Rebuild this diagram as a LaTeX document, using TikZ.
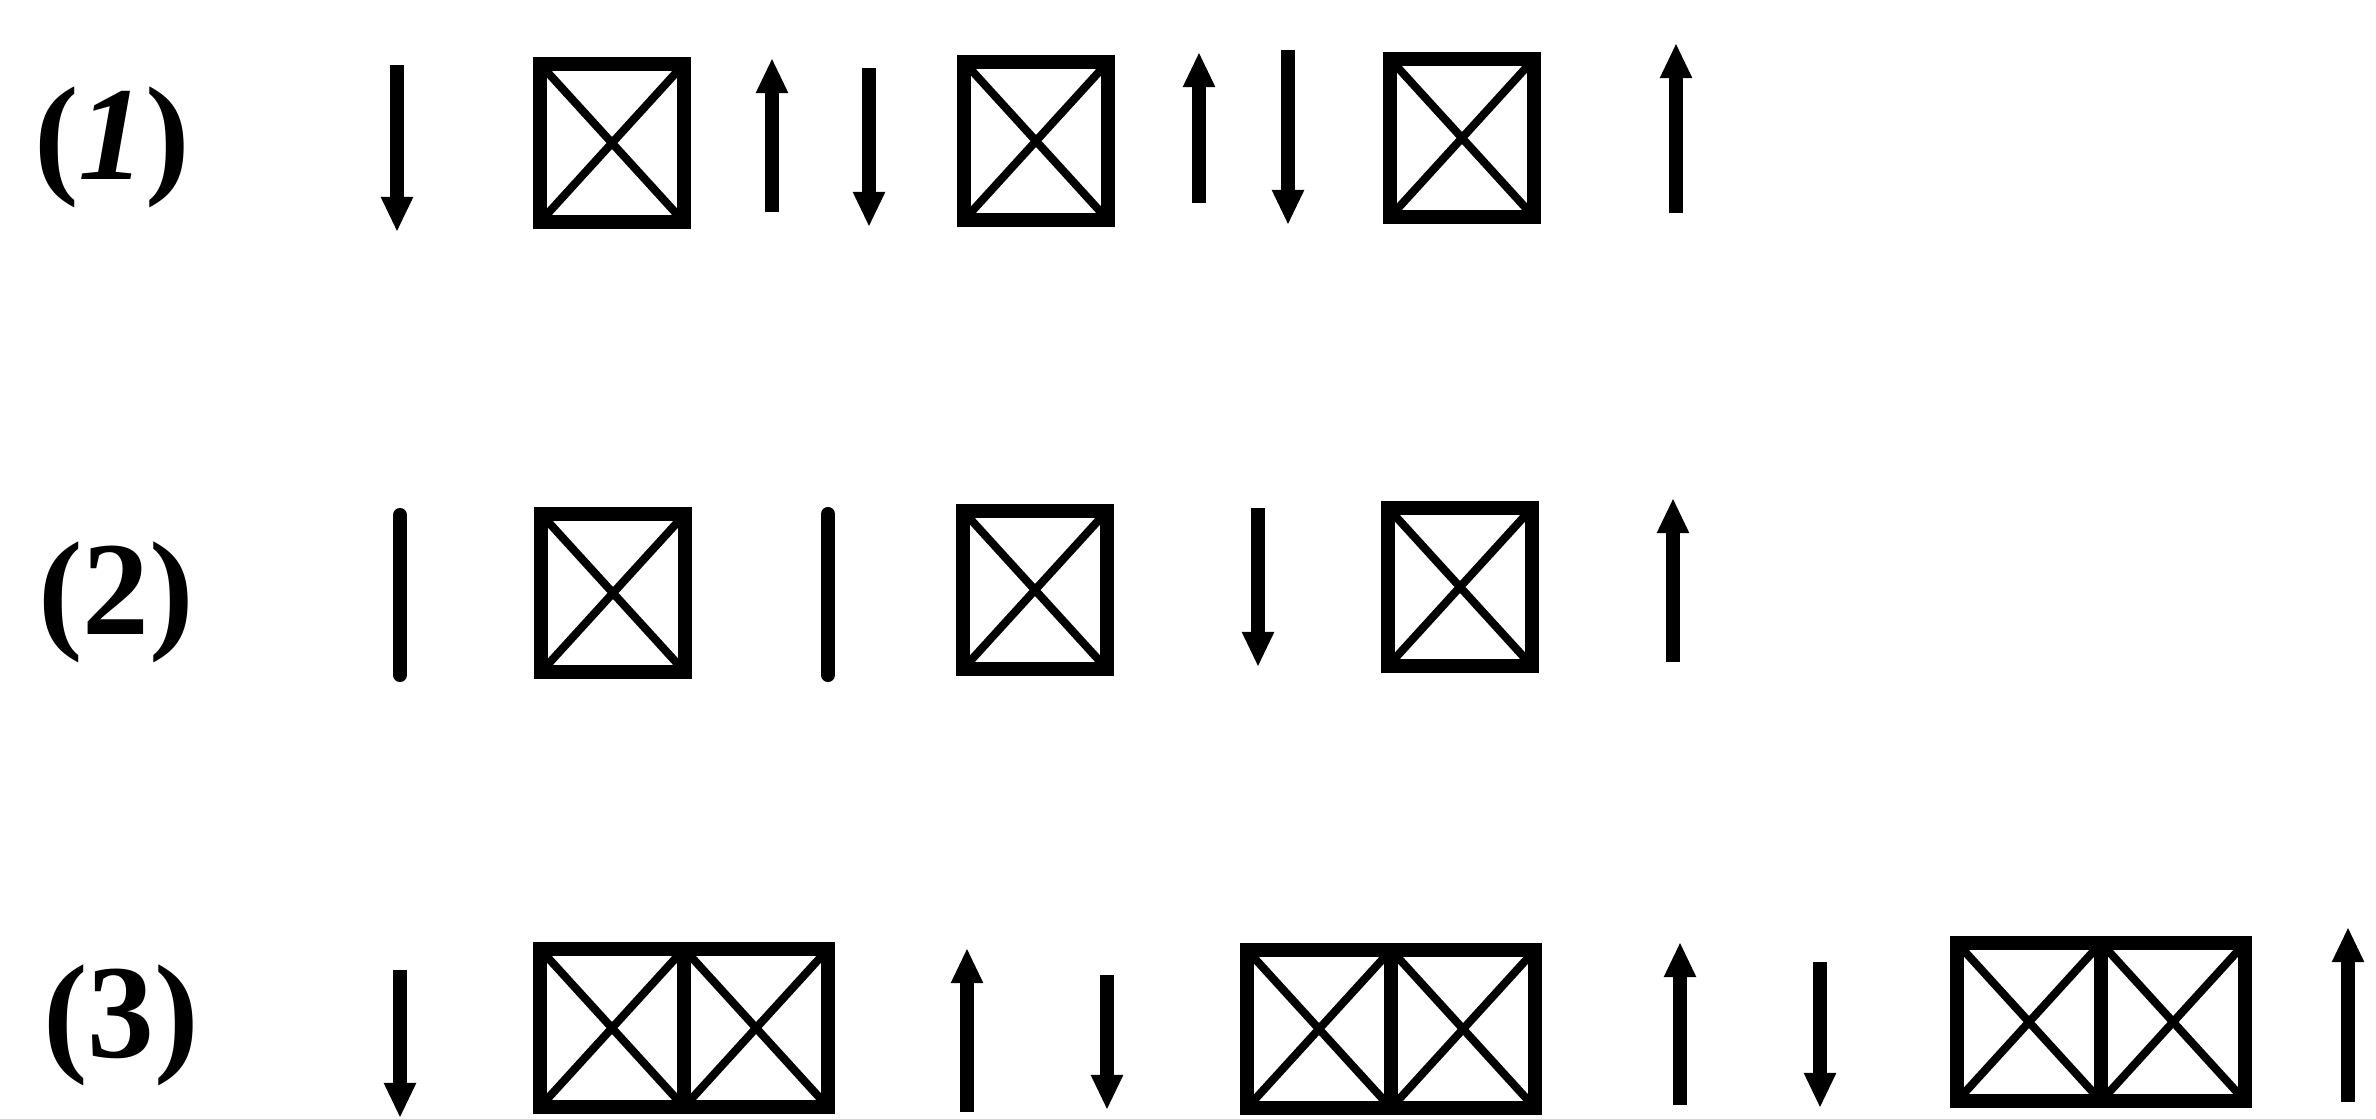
\documentclass[tikz,border=0pt]{standalone}
\usepackage{fontspec}
\setmainfont{Liberation Serif}
\usetikzlibrary{arrows.meta,positioning}
\begin{document}
\begin{tikzpicture}[x=0.01cm,y=-0.01cm,
    cell/.style={draw,line width=4pt,outer sep=0pt,inner sep=0pt,
      minimum width=1.44cm,minimum height=1.58cm,
      path picture={\draw[line width=2.3pt]
        (path picture bounding box.north west) -- (path picture bounding box.south east)
        (path picture bounding box.south west) -- (path picture bounding box.north east);}},
    spin/.style={line width=4pt,-{Triangle[length=10pt,width=8.5pt]}},
    bar/.style={line width=4pt,line cap=round},
    lab/.style={font=\fontsize{38}{38}\selectfont\bfseries,inner sep=0pt}]
  \useasboundingbox (0,0) rectangle (2376,1118);
  % Row labels
  \node[lab] (lab1) at (112,147) {(\textit{1})};
  \node[lab] (lab2) at (116,602) {(2)};
  \node[lab] (lab3) at (121,1025) {(3)};
  % Row (1)
  \draw[spin] (397,65) -- (397,232);
  \node[cell] (a1) at (612,143) {};
  \draw[spin] (772,212) -- (772,58);
  \draw[spin] (869,68) -- (869,227);
  \node[cell] (a2) at (1036,141) {};
  \draw[spin] (1199,203) -- (1199,52);
  \draw[spin] (1288,50) -- (1288,225);
  \node[cell] (a3) at (1462,138) {};
  \draw[spin] (1676,213) -- (1676,43);
  % Row (2)
  \draw[bar] (400,515) -- (400,675);
  \node[cell] (b1) at (613,593) {};
  \draw[bar] (828,514) -- (828,675);
  \node[cell] (b2) at (1035,590) {};
  \draw[spin] (1258,508) -- (1258,667);
  \node[cell] (b3) at (1460,587) {};
  \draw[spin] (1673,662) -- (1673,498);
  % Row (3), double cells
  \draw[spin] (400,970) -- (400,1118);
  \node[cell] (c1) at (612,1028) {};
  \node[cell,right=0pt of c1] (c2) {};
  \draw[spin] (967,1112) -- (967,948);
  \draw[spin] (1107,975) -- (1107,1110);
  \node[cell] (c3) at (1319,1029) {};
  \node[cell,right=0pt of c3] (c4) {};
  \draw[spin] (1680,1105) -- (1680,942);
  \draw[spin] (1820,962) -- (1820,1108);
  \node[cell] (c5) at (2029,1022) {};
  \node[cell,right=0pt of c5] (c6) {};
  \draw[spin] (2348,1102) -- (2348,927);
\end{tikzpicture}
\end{document}
